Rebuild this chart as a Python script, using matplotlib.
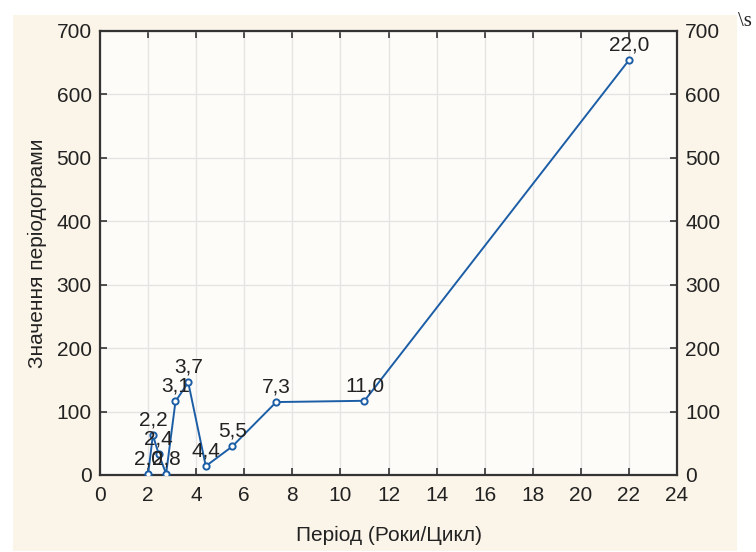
import numpy as np
import matplotlib.pyplot as plt
from matplotlib.patches import Rectangle

plt.rcParams['font.family'] = ['Liberation Sans', 'DejaVu Sans']

# periods (years/cycle) and periodogram values
period = [2.0, 2.2, 2.44, 2.75, 3.14, 3.67, 4.4, 5.5, 7.33, 11.0, 22.0]
value = [1, 63, 33, 2, 116, 146, 14, 45, 115, 117, 654]
labels = ['2,0', '2,2', '2,4', '2,8', '3,1', '3,7', '4,4', '5,5', '7,3', '11,0', '22,0']

xticks = np.arange(0, 25, 2)
yticks = np.arange(0, 701, 100)

W, H = 756, 552
fig = plt.figure(figsize=(W / 100, H / 100), dpi=100)
fig.patch.set_facecolor('white')
fig.patches.append(Rectangle((13 / W, 1 - 551 / H), 724 / W, 536 / H,
                             transform=fig.transFigure, facecolor='#fbf4e8',
                             edgecolor='none', zorder=-5))

ax = fig.add_axes([100 / W, 77 / H, 577 / W, 444 / H])
ax.set_facecolor('#fefcf9')

line_col = '#1c5ea6'
ax.plot(period, value, color=line_col, lw=1.4, marker='o', ms=4.5,
        mfc='white', mec=line_col, mew=1.4, zorder=3)
for p, v, t in zip(period, value, labels):
    ax.annotate(t, (p, v), xytext=(0, 4), textcoords='offset points',
                ha='center', va='bottom', fontsize=15, color='#222222', zorder=4)

ax.set_xlim(0, 24)
ax.set_ylim(0, 700)
ax.set_xticks(xticks)
ax.set_yticks(yticks)
ax.grid(True, color='#e4e4e4', lw=1)
ax.set_axisbelow(True)
ax.tick_params(direction='in', length=5, width=1.2, colors='#333333',
               labelsize=15, labelcolor='#222222', top=True, right=True,
               labelright=True)
ax.tick_params(axis='x', pad=8)
ax.tick_params(axis='y', pad=6)
for s in ax.spines.values():
    s.set_color('#333333')
    s.set_linewidth(1.6)

ax.set_xlabel('Період (Роки/Цикл)', fontsize=15, color='#222222', labelpad=15)
ax.set_ylabel('Значення періодограми', fontsize=15, color='#222222', labelpad=7)

fig.text(738 / W, 1 - 22 / H, '\\s', family='Liberation Serif', fontsize=15,
         color='#222222', va='center', ha='left')

fig.savefig('out.png', dpi=100, facecolor=fig.get_facecolor())
